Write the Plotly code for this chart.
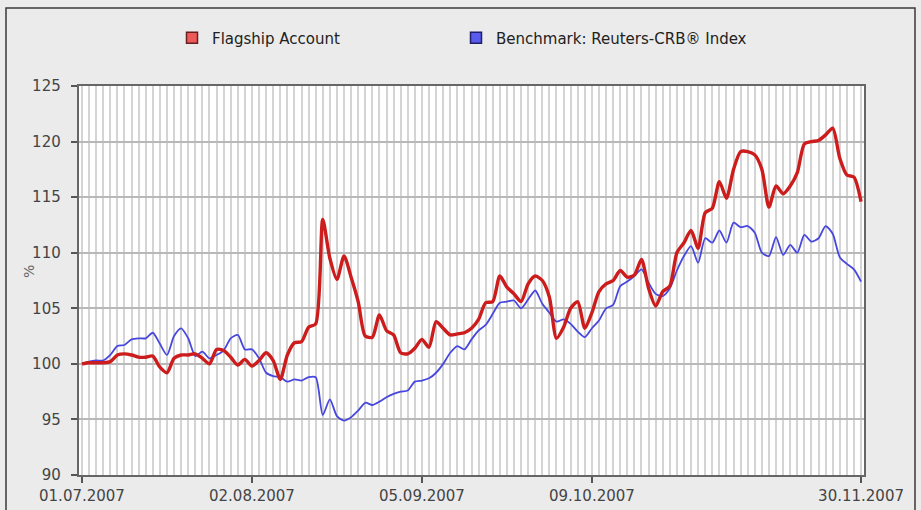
import plotly.graph_objects as go

# Values (business-day index, 01.07.2007 .. 30.11.2007)
flagship = [
    100.0, 100.1, 100.1, 100.1, 100.2, 100.8, 100.9, 100.8, 100.6, 100.6,
    100.7, 99.7, 99.2, 100.5, 100.8, 100.8, 100.9, 100.5, 100.0, 101.3,
    101.2, 100.6, 99.9, 100.4, 99.8, 100.3, 101.0, 100.3, 98.6, 100.8,
    101.9, 102.0, 103.3, 103.6, 113.0, 109.5, 107.6, 109.7, 107.8, 105.6,
    102.5, 102.4, 104.4, 103.0, 102.6, 101.0, 100.9, 101.4, 102.2, 101.5,
    103.8, 103.2, 102.6, 102.7, 102.8, 103.2, 104.0, 105.5, 105.6, 107.9,
    106.9, 106.3, 105.6, 107.2, 107.9, 107.5, 106.0, 102.3, 103.3, 105.0,
    105.6, 103.2, 104.6, 106.5, 107.2, 107.5, 108.4, 107.8, 108.0, 109.4,
    106.8, 105.2, 106.5, 107.0, 110.0, 110.9, 112.0, 110.4, 113.6, 114.0,
    116.4, 114.9, 117.5, 119.1, 119.1, 118.8, 117.5, 114.1, 116.0, 115.3,
    116.0, 117.2, 119.8, 120.0, 120.1, 120.6, 121.2, 118.5, 117.0, 116.8,
    114.6,
]
benchmark = [
    100.0, 100.2, 100.3, 100.3, 100.8, 101.6, 101.7, 102.2, 102.3, 102.3,
    102.8, 101.8, 100.8, 102.5, 103.2, 102.3, 100.7, 101.1, 100.5, 100.8,
    101.2, 102.3, 102.6, 101.3, 101.3, 100.5, 99.2, 98.9, 98.8, 98.4,
    98.6, 98.5, 98.8, 98.8, 95.4, 96.8, 95.3, 94.9, 95.2, 95.8,
    96.5, 96.3, 96.6, 97.0, 97.3, 97.5, 97.6, 98.4, 98.5, 98.7,
    99.2, 100.0, 101.0, 101.6, 101.3, 102.2, 103.0, 103.5, 104.5, 105.5,
    105.6, 105.7, 105.0, 105.8, 106.6, 105.4, 104.6, 103.8, 104.0, 103.6,
    102.9, 102.4, 103.2, 103.9, 105.0, 105.3, 107.0, 107.4, 107.9, 108.5,
    107.3, 106.3, 106.1, 106.8, 108.4, 109.7, 110.6, 109.1, 111.3, 110.9,
    112.0, 110.9, 112.7, 112.3, 112.4, 111.8, 110.0, 109.7, 111.4, 109.8,
    110.7, 110.0, 111.6, 111.0, 111.3, 112.4, 111.7, 109.6, 109.0, 108.5,
    107.4,
]
tick_pos = [0, 24, 48, 72, 110]
tick_labels = ["01.07.2007", "02.08.2007", "05.09.2007", "09.10.2007", "30.11.2007"]
series_names = ["Flagship Account", "Benchmark: Reuters-CRB\u00ae Index"]
y_title = "%"

x = list(range(len(flagship)))
FONT = "DejaVu Sans"

fig = go.Figure()
fig.add_trace(go.Scatter(
    x=x, y=benchmark, mode="lines", name=series_names[1], showlegend=False,
    line=dict(color="#4747e0", width=1.8, shape="spline", smoothing=0.7),
    hoverinfo="skip"))
fig.add_trace(go.Scatter(
    x=x, y=flagship, mode="lines", name=series_names[0], showlegend=False,
    line=dict(color="#cc1c1c", width=3.4, shape="spline", smoothing=0.7),
    hoverinfo="skip"))
# legend swatches (square markers)
fig.add_trace(go.Scatter(
    x=[None], y=[None], mode="markers", name=series_names[0], legend="legend",
    marker=dict(symbol="square", size=11, color="#ee5a5a",
                line=dict(color="#6a1f1f", width=1.5))))
fig.add_trace(go.Scatter(
    x=[None], y=[None], mode="markers", name=series_names[1], legend="legend2",
    marker=dict(symbol="square", size=11, color="#5a5aee",
                line=dict(color="#1f1f6a", width=1.5))))

L, R, T, B = 79, 57, 86, 35
W, H = 921, 510
pw, ph = W - L - R, H - T - B

def px_x(v):
    return (v - L) / pw

def px_y(v):
    return (H - B - v) / ph

legend_common = dict(
    orientation="h", xref="container", yref="container",
    xanchor="left", y=(H - 38) / H, yanchor="middle",
    font=dict(family=FONT, size=15, color="#222222"),
    bgcolor="rgba(0,0,0,0)", itemwidth=30,
)

fig.update_layout(
    width=W, height=H,
    margin=dict(l=L, r=R, t=T, b=B, pad=0, autoexpand=False),
    paper_bgcolor="#ebebeb",
    plot_bgcolor="#ffffff",
    font=dict(family=FONT, size=15, color="#444444"),
    legend=dict(x=172 / W, **legend_common),
    legend2=dict(x=456 / W, **legend_common),
    shapes=[dict(
        type="rect", xref="paper", yref="paper",
        x0=px_x(6), x1=px_x(915), y0=px_y(530), y1=px_y(8),
        line=dict(color="#3a3a3a", width=1.5), fillcolor="rgba(0,0,0,0)",
        layer="below")],
    annotations=[dict(
        text=y_title, xref="paper", yref="paper",
        x=px_x(29), y=px_y(272), xanchor="center", yanchor="middle",
        textangle=-90, showarrow=False,
        font=dict(family=FONT, size=14, color="#666666"))],
)

fig.update_xaxes(
    range=[-0.42, 110.42], automargin=False,
    tickmode="array", tickvals=tick_pos, ticktext=tick_labels,
    ticks="outside", ticklen=6, tickcolor="#555555", tickwidth=1.5,
    showgrid=True, gridcolor="#d4d4d4", gridwidth=1.5,
    minor=dict(tickmode="linear", tick0=0, dtick=1, showgrid=True,
               gridcolor="#d4d4d4", gridwidth=1.5, ticks=""),
    showline=True, linecolor="#666666", linewidth=1.5, mirror=True,
    zeroline=False, tickfont=dict(size=15, color="#444444"),
)
fig.update_yaxes(
    range=[90, 125], dtick=5, tick0=90, automargin=False,
    ticks="outside", ticklen=6, tickcolor="#555555", tickwidth=1.5,
    ticksuffix="\u2002",
    showgrid=True, gridcolor="#b8b8b8", gridwidth=1.5,
    showline=True, linecolor="#666666", linewidth=1.5, mirror=True,
    zeroline=False, tickfont=dict(size=15, color="#444444"),
)

fig.write_html(
    "out.html",
    config={"displayModeBar": False},
    post_script="document.body.style.margin='0px';"
                "document.body.style.background='#ebebeb';",
)
